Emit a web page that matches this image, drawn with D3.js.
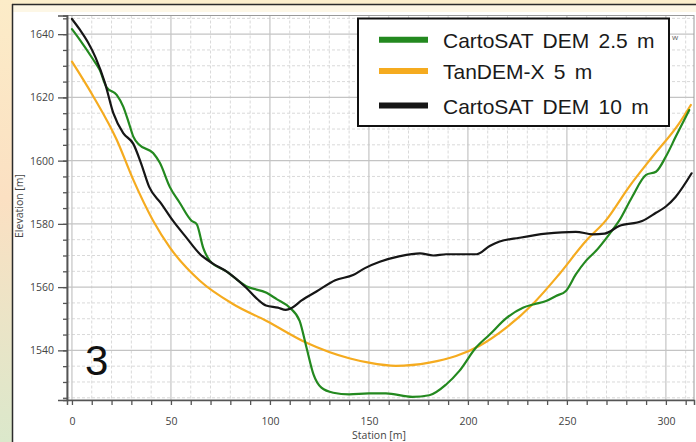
<!DOCTYPE html>
<html><head><meta charset="utf-8">
<script src="https://cdn.jsdelivr.net/npm/d3@7"></script>
<style>html,body{margin:0;padding:0;background:#fcefcc;}svg{display:block;}</style>
</head><body>
<svg id="c" width="696" height="442"></svg>
<script>
// ---- data ----
const seriesNames = ["CartoSAT DEM 2.5 m", "TanDEM-X 5 m", "CartoSAT DEM 10 m"];
const greenStation = [0,4,10.8,14,17.5,22.6,25.9,28.8,31,34,41,44.4,49.4,54.5,60.4,63,66.3,69.7,78,88,98.3,103.4,110,115,118.5,122,126,132,140,150,158.6,172,180.5,189,195.7,204,211,219.4,227.8,233.5,239.5,244.5,249.5,254.5,259.6,264.6,271.4,276.4,283,290,295,300,305,311.8];
const greenElev = [1641.6,1638.2,1631.9,1628.7,1623.2,1620.8,1617.1,1611.8,1607.6,1605,1602.4,1599.3,1591.7,1586.6,1581,1579.9,1572.4,1568.3,1565,1560.3,1558.2,1556.2,1553.5,1549.3,1540.8,1532.4,1528.2,1526.6,1526.1,1526.4,1526.4,1525.3,1525.8,1529.2,1533.5,1540.8,1545,1550.2,1553.5,1554.6,1555.6,1557.2,1558.8,1564,1568.3,1571.4,1576.7,1581,1588.6,1595.5,1596.5,1601.3,1607.6,1616];
const orangeStation = [0,10.8,22.6,31,41,49.5,64.6,81.5,98.3,118.5,140,150,163.6,180.5,194,205.7,219.4,232.7,246,259.6,269.7,281.5,293.3,306.7,312.6];
const orangeElev = [1631.3,1620.3,1606.6,1593.9,1581,1572.5,1562,1554.6,1549.3,1542.4,1537.5,1536.1,1535.1,1536.1,1538.2,1541.4,1547.2,1554.6,1564,1574.6,1581.1,1591.8,1601.3,1611.8,1617.6];
const blackStation = [0,4,8,12,16.7,20.9,25.9,31,35,39,45,51,58,64.6,71,78,88,94,98,104,108,111,116,123.5,133,142,148,155.5,165.7,175.8,182.5,189,204.4,211,216,226,239.4,254.5,263,269,276.4,288,295,300,305,313];
const blackElev = [1644.8,1641.4,1637.5,1632.5,1624.5,1615,1608.7,1605.3,1599,1591.7,1586.5,1581,1575.5,1570.5,1567.5,1565,1559.8,1556,1554.2,1553.5,1552.8,1553.4,1555.8,1558.6,1562.2,1563.8,1566,1568,1569.8,1570.7,1570,1570.4,1570.4,1573,1574.4,1575.6,1576.9,1577.5,1576.7,1576.9,1579.3,1580.9,1583.5,1585.5,1588.6,1596];
const xTicks = [0,50,100,150,200,250,300];
const yTicks = [1540,1560,1580,1600,1620,1640];
const colors = ["#23891f", "#f5ab1f", "#161616"];

(function(){
const svg = d3.select("#c");
const W = 696, H = 442;

// background decoration
const defs = svg.append("defs");
const lg = defs.append("linearGradient").attr("id","lg").attr("x1",0).attr("y1",0).attr("x2",0).attr("y2",1);
lg.append("stop").attr("offset","0%").attr("stop-color","#fcecc8");
lg.append("stop").attr("offset","45%").attr("stop-color","#fbe0c2");
lg.append("stop").attr("offset","100%").attr("stop-color","#dbe8cb");
svg.append("rect").attr("x",0).attr("y",0).attr("width",W).attr("height",H).attr("fill","#fcefcc");
svg.append("rect").attr("x",0).attr("y",0).attr("width",13).attr("height",H).attr("fill","url(#lg)");
svg.append("rect").attr("x",13).attr("y",5).attr("width",W-13).attr("height",H-5).attr("fill","#fdf7e6");
svg.append("rect").attr("x",13).attr("y",12).attr("width",W-13).attr("height",H-12).attr("fill","#ffffff");
svg.append("line").attr("x1",12.5).attr("x2",12.5).attr("y1",4).attr("y2",H).attr("stroke","#2b2b2b").attr("stroke-width",1.5);
svg.append("line").attr("x1",12).attr("x2",W).attr("y1",4.5).attr("y2",4.5).attr("stroke","#2b2b2b").attr("stroke-width",1.5);

// scales
const pl = 67, pr = 694, pt = 15.5, pb = 400;
const x = d3.scaleLinear().domain([-2.5, 314.2]).range([pl, pr]);
const y = d3.scaleLinear().domain([1524.3, 1645.9]).range([pb, pt]);

const g = svg.append("g");
// minor grid
const minorX = d3.range(10, 320, 10).filter(v => v % 50 !== 0);
const minorY = d3.range(1525, 1646, 5).filter(v => v % 20 !== 0);
g.selectAll(".mx").data(minorX).join("line").attr("x1",d=>x(d)).attr("x2",d=>x(d)).attr("y1",pt).attr("y2",pb)
  .attr("stroke","#d9d9d9").attr("stroke-width",1).attr("stroke-dasharray","3,2");
g.selectAll(".my").data(minorY).join("line").attr("y1",d=>y(d)).attr("y2",d=>y(d)).attr("x1",pl).attr("x2",pr)
  .attr("stroke","#d9d9d9").attr("stroke-width",1).attr("stroke-dasharray","3,2");
// major grid
g.selectAll(".Mx").data(xTicks).join("line").attr("x1",d=>x(d)).attr("x2",d=>x(d)).attr("y1",pt).attr("y2",pb)
  .attr("stroke","#c4c4c4").attr("stroke-width",1.2);
g.selectAll(".My").data(yTicks).join("line").attr("y1",d=>y(d)).attr("y2",d=>y(d)).attr("x1",pl).attr("x2",pr)
  .attr("stroke","#c4c4c4").attr("stroke-width",1.2);

// frame
svg.append("rect").attr("x",pl).attr("y",pt).attr("width",pr-pl).attr("height",pb-pt)
  .attr("fill","none").attr("stroke","#9a9a9a").attr("stroke-width",1);

// axes
const tickFont = "'Open Sans', 'Noto Sans', sans-serif";
const xAxis = d3.axisBottom(x).tickValues(d3.range(0, 320, 10)).tickSize(5).tickFormat(d => xTicks.includes(d) ? d : "");
const xa = svg.append("g").attr("transform",`translate(0,${pb})`).call(xAxis);
const yAxisMinor = d3.axisLeft(y).tickValues(d3.range(1525, 1646, 5)).tickSize(4).tickFormat("");
const yam = svg.append("g").attr("transform",`translate(${pl},0)`).call(yAxisMinor);
const yAxis = d3.axisLeft(y).tickValues(yTicks).tickSize(9).tickPadding(4).tickFormat(d3.format("d"));
const ya = svg.append("g").attr("transform",`translate(${pl},0)`).call(yAxis);
[xa, ya, yam].forEach(a => {
  a.select(".domain").attr("stroke","#555").attr("stroke-width",1.5);
  a.selectAll(".tick line").attr("stroke","#555").attr("stroke-width",1.3);
  a.selectAll("text").attr("fill","#444").attr("font-family",tickFont).attr("font-size","10.5px");
});
xa.selectAll("text").attr("dy","1.6em");

svg.append("text").attr("x",379).attr("y",439).attr("text-anchor","middle")
  .attr("font-family",tickFont).attr("font-size","10.5px").attr("fill","#444").text("Station [m]");
svg.append("text").attr("transform","translate(23,206) rotate(-90)").attr("text-anchor","middle")
  .attr("font-family",tickFont).attr("font-size","10.5px").attr("fill","#444").text("Elevation [m]");

// lines
const line = d3.line().x(d=>x(d[0])).y(d=>y(d[1])).curve(d3.curveMonotoneX);
const series = [
  d3.zip(orangeStation, orangeElev),
  d3.zip(greenStation, greenElev),
  d3.zip(blackStation, blackElev)
];
const sColors = [colors[1], colors[0], colors[2]];
series.forEach((s,i) => {
  svg.append("path").datum(s).attr("d",line).attr("fill","none").attr("stroke",sColors[i])
    .attr("stroke-width",2.2).attr("stroke-linejoin","round").attr("stroke-linecap","round");
});

// big label
svg.append("text").attr("x",85).attr("y",375).attr("font-family","'Liberation Sans', Arial, sans-serif")
  .attr("font-size","42px").attr("fill","#111").text("3");

// small partial label
svg.append("text").attr("x",672).attr("y",40).attr("font-family",tickFont).attr("font-size","8px").attr("fill","#666").text("w");

// legend
const leg = svg.append("g");
leg.append("rect").attr("x",358).attr("y",18.5).attr("width",311).attr("height",107.5)
  .attr("fill","#fff").attr("stroke","#111").attr("stroke-width",2);
const legY = [39.7, 71, 105.5];
seriesNames.forEach((n,i) => {
  leg.append("line").attr("x1",379).attr("x2",428).attr("y1",legY[i]).attr("y2",legY[i])
    .attr("stroke",colors[i]).attr("stroke-width",6);
  leg.append("text").attr("x",443).attr("y",legY[i]+8).attr("font-family","'Liberation Sans', Arial, sans-serif")
    .attr("font-size","21px").attr("word-spacing","3.5px").attr("fill","#1a1a1a").text(n);
});
})();
</script>
</body></html>
